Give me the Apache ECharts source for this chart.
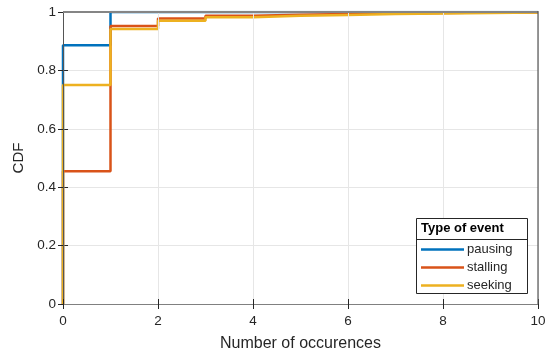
<!DOCTYPE html>
<html><head><meta charset="utf-8">
<script src="https://cdn.jsdelivr.net/npm/echarts@6/dist/echarts.min.js"></script>
<style>html,body{margin:0;padding:0;background:#fff}#c{width:550px;height:352px}</style>
</head><body><div id="c"></div>
<script>
const xs = [0,1,2,3,4,5,6,7,8,9,10];
const pausing  = [0.886, 1, 1, 1, 1, 1, 1, 1, 1, 1, 1];
const stalling = [0.455, 0.952, 0.978, 0.987, 0.991, 0.993, 0.995, 0.997, 0.998, 0.999, 1];
const seeking  = [0.75, 0.942, 0.970, 0.982, 0.987, 0.990, 0.993, 0.995, 0.997, 0.998, 0.999];
const names = ['pausing','stalling','seeking'];
const colors = ['#0072BD','#D95319','#EDB120'];
const legendTitle = 'Type of event';

function build(v){ const d=[[0,0]]; xs.forEach((x,i)=>d.push([x,v[i]])); return d; }
const font = 'Helvetica, "Liberation Sans", Arial, sans-serif';
const axisCol = '#262626';
const chart = echarts.init(document.getElementById('c'));
const L = 63, R = 538, T = 12, B = 304;
chart.setOption({
  animation:false,
  grid:{left:L, right:550-R, top:T, bottom:352-B, outerBoundsMode:'none', containLabel:false},
  xAxis:[{type:'value', min:0, max:10, interval:2,
    name:'Number of occurences', nameLocation:'middle', nameGap:32,
    nameTextStyle:{fontFamily:font, fontSize:16, color:axisCol},
    axisLine:{lineStyle:{color:axisCol}}, axisTick:{inside:true, length:5, lineStyle:{color:axisCol}},
    axisLabel:{fontFamily:font, fontSize:13.5, color:axisCol, margin:10},
    splitLine:{show:true, lineStyle:{color:'#e6e6e6'}}, z:5},
    {type:'value', position:'top', min:0, max:10, interval:2,
    axisLine:{show:true, lineStyle:{color:'#808080'}}, axisTick:{inside:true, length:5, lineStyle:{color:axisCol}},
    axisLabel:{show:false}, splitLine:{show:false}, z:5}],
  yAxis:[{type:'value', min:0, max:1, interval:0.2,
    name:'CDF', nameLocation:'middle', nameGap:33,
    nameTextStyle:{fontFamily:font, fontSize:15, color:axisCol},
    axisLine:{show:true, lineStyle:{color:axisCol}}, axisTick:{show:true, inside:true, length:5, lineStyle:{color:axisCol}},
    axisLabel:{fontFamily:font, fontSize:13.5, color:axisCol, margin:7, formatter:v=>String(+v.toFixed(1))},
    splitLine:{show:true, lineStyle:{color:'#e6e6e6'}}, z:1},
    {type:'value', position:'right', min:0, max:1, interval:0.2,
    axisLine:{show:true, lineStyle:{color:'#555'}}, axisTick:{show:true, inside:true, length:5, lineStyle:{color:axisCol}},
    axisLabel:{show:false}, splitLine:{show:false}, z:5}],
  legend:{orient:'vertical', left:421, top:243, itemGap:5, itemWidth:43, itemHeight:12,
    data:names, textStyle:{fontFamily:font, fontSize:13, color:axisCol, padding:[0,0,0,-2]},
    padding:0, icon:'path://M0,4.8 L43,4.8 L43,7.2 L0,7.2 Z', z:20},
  graphic:[
    {type:'line', shape:{x1:L, y1:T, x2:R, y2:T}, style:{stroke:'#858585', lineWidth:2.2}, z:12},
    {type:'line', shape:{x1:R, y1:T-1, x2:R, y2:B}, style:{stroke:'#555', lineWidth:1.2}, z:12},
    {type:'rect', shape:{x:416.5, y:218.5, width:111, height:75}, style:{fill:'#fff', stroke:'#262626', lineWidth:1}, z:15},
    {type:'line', shape:{x1:416.5, y1:239.5, x2:527.5, y2:239.5}, style:{stroke:'#262626', lineWidth:1}, z:16},
    {type:'text', left:421, top:222, style:{text:legendTitle, font:'bold 13px '+font, fill:'#000'}, z:16}
  ],
  series: names.map((n,i)=>({name:n, type:'line', step:'end', symbol:'none',
    data: build([pausing,stalling,seeking][i]), color:colors[i],
    lineStyle:{width:2.5, color:colors[i]}, z:2+i/10}))
});
</script></body></html>
